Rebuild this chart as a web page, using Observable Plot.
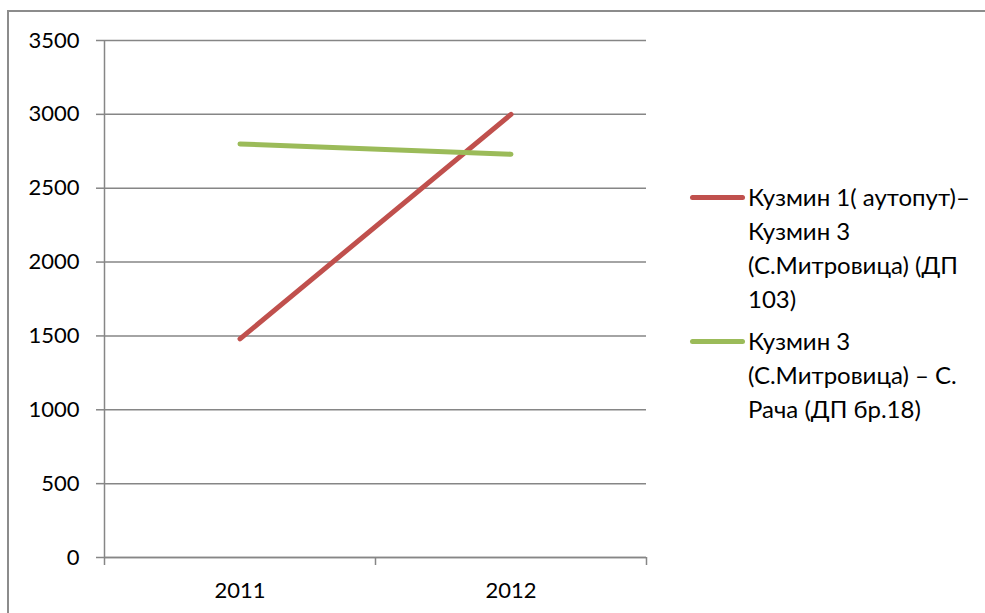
<!DOCTYPE html>
<html>
<head>
<meta charset="utf-8">
<script src="https://cdn.jsdelivr.net/npm/d3@7"></script>
<script src="https://cdn.jsdelivr.net/npm/@observablehq/plot@0.6"></script>
<style>
  html, body { margin: 0; padding: 0; background: #fff; }
  #wrap { position: relative; width: 985px; height: 613px; overflow: hidden; font-family: Lato, "Open Sans", sans-serif; }
  #frame { position: absolute; left: 7px; top: 10px; width: 1000px; height: 700px; border-left: 2px solid #8c8c8c; border-top: 2px solid #8c8c8c; box-sizing: border-box; }
  #chart { position: absolute; left: 0; top: 0; }
  .leg { position: absolute; left: 690px; font-size: 24px; line-height: 34px; color: #000; }
  .leg .sw { position: absolute; left: 0; width: 55px; height: 5px; border-radius: 3px; }
  .leg .tx { position: absolute; left: 58px; width: 270px; white-space: nowrap; }
</style>
</head>
<body>
<div id="wrap">
  <div id="frame"></div>
  <div id="chart"></div>
  <div id="legend"></div>
</div>
<script>
const years = ["2011", "2012"];
const seriesNames = [
  ["Кузмин 1( аутопут)–", "Кузмин 3", "(С.Митровица) (ДП", "103)"],
  ["Кузмин 3", "(С.Митровица) – С.", "Рача (ДП бр.18)"]
];
const redValues = [1480, 3000];
const greenValues = [2800, 2730];
const colors = ["#C0504D", "#9BBB59"];
const yTicks = [0, 500, 1000, 1500, 2000, 2500, 3000, 3500];

const rows = [];
[redValues, greenValues].forEach((vals, s) => {
  vals.forEach((v, i) => rows.push({series: s, idx: i + 1, year: years[i], value: v}));
});

const plot = Plot.plot({
  width: 985,
  height: 613,
  marginLeft: 104,
  marginRight: 339,
  marginTop: 40,
  marginBottom: 56,
  style: {fontFamily: "Lato, 'Open Sans', sans-serif", fontSize: "22px", color: "#000", background: "transparent"},
  x: {type: "linear", domain: [0.5, years.length + 0.5], range: [104, 646]},
  y: {domain: [0, 3500], range: [557, 40]},
  marks: [
    Plot.gridY(yTicks, {stroke: "#868686", strokeOpacity: 1, strokeWidth: 1.5}),
    Plot.ruleX([0.5], {y1: 0, y2: 3500, stroke: "#868686", strokeWidth: 1.5}),
    Plot.axisY({ticks: yTicks, tickSize: 8, tickPadding: 17, stroke: "#868686", strokeWidth: 1.5, tickFormat: d => String(d), label: null, fontSize: 22, fill: "#000"}),
    Plot.ruleY([0], {stroke: "#868686", strokeWidth: 1.5}),
    Plot.axisX({ticks: d3.range(0, years.length + 1).map(i => i + 0.5), tickSize: 8, tickFormat: () => "", stroke: "#868686", strokeWidth: 1.5, label: null}),
    Plot.axisX({ticks: years.map((y, i) => i + 1), tickSize: 0, tickPadding: 25, tickFormat: d => years[d - 1], label: null, fontSize: 22, fill: "#000"}),
    Plot.line(rows, {x: "idx", y: "value", z: "series", stroke: d => colors[d.series], strokeWidth: 5, strokeLinecap: "round"})
  ]
});
document.getElementById("chart").appendChild(plot);

const legend = document.getElementById("legend");
const legTops = [180, 324];
seriesNames.forEach((lines, s) => {
  const g = document.createElement("div");
  g.className = "leg";
  g.style.top = legTops[s] + "px";
  const sw = document.createElement("div");
  sw.className = "sw";
  sw.style.background = colors[s];
  sw.style.top = "15px";
  g.appendChild(sw);
  const tx = document.createElement("div");
  tx.className = "tx";
  tx.innerHTML = lines.join("<br>");
  g.appendChild(tx);
  legend.appendChild(g);
});
</script>
</body>
</html>
